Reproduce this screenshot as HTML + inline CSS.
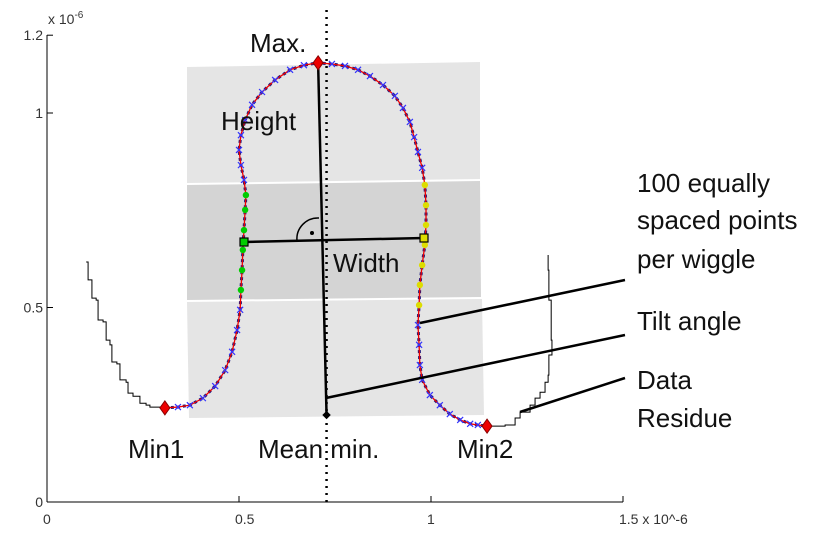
<!DOCTYPE html>
<html><head><meta charset="utf-8"><style>
body{margin:0;background:#fff}
svg{display:block}
.t{font-family:"Liberation Sans",sans-serif;font-size:14px;fill:#333}
.a{font-family:"Liberation Sans",sans-serif;font-size:26px;fill:#111}
</style></head><body>
<svg id="c" width="825" height="534" viewBox="0 0 825 534">
<g><polygon points="187,67 480,62 480,179 187,183" fill="#e5e5e5"/></g>
<g><polygon points="187,185 480,181 481,297 187,300" fill="#d4d4d4"/></g>
<g><polygon points="187,302 482,299 484,415 189,418" fill="#e5e5e5"/></g>
<g id="axes"></g>
<g id="marks"></g>
<g id="anno"></g>
</svg>
<script>
const xTicks=[0,0.5,1,1.5];
const xTickLabels=["0","0.5","1","1.5 x 10^-6"];
const yTicks=[0,0.5,1,1.2];
const yTickLabels=["0","0.5","1","1.2"];
const leftTailX=[0.102,0.107,0.117,0.128,0.133,0.146,0.154,0.164,0.169,0.182,0.190,0.206,0.211,0.224,0.242,0.258,0.268,0.307];
const leftTailY=[0.617,0.571,0.524,0.519,0.468,0.463,0.416,0.404,0.360,0.355,0.314,0.308,0.280,0.272,0.254,0.249,0.244,0.242];
const wiggleX=[0.307,0.341,0.372,0.406,0.438,0.464,0.482,0.495,0.503,0.505,0.508,0.510,0.513,0.516,0.518,0.513,0.505,0.500,0.505,0.516,0.534,0.560,0.594,0.633,0.669,0.706,0.742,0.776,0.810,0.841,0.875,0.906,0.927,0.945,0.956,0.966,0.977,0.984,0.987,0.987,0.984,0.977,0.971,0.969,0.966,0.969,0.971,0.977,0.997,1.023,1.049,1.076,1.102,1.122,1.146];
const wiggleY=[0.242,0.244,0.249,0.267,0.298,0.339,0.386,0.442,0.494,0.545,0.596,0.648,0.699,0.751,0.789,0.828,0.866,0.905,0.943,0.982,1.021,1.054,1.085,1.111,1.123,1.129,1.126,1.121,1.111,1.095,1.072,1.044,1.013,0.977,0.938,0.900,0.859,0.815,0.763,0.712,0.661,0.609,0.558,0.506,0.455,0.404,0.352,0.314,0.275,0.249,0.226,0.211,0.201,0.198,0.195];
const rightTailX=[1.146,1.193,1.219,1.232,1.258,1.271,1.284,1.297,1.305,1.307,1.315,1.313,1.307,1.305];
const rightTailY=[0.195,0.198,0.216,0.231,0.249,0.267,0.282,0.308,0.326,0.378,0.416,0.519,0.596,0.635];
const extremaX=[0.307,0.706,1.146];
const extremaY=[0.242,1.129,0.195];
const bandLo=0.50, bandHi=0.82;

const X=v=>47+v*384, Y=v=>502-v*389;
const NS="http://www.w3.org/2000/svg";
function mk(p,tag,at){const e=document.createElementNS(NS,tag);for(const k in at)e.setAttribute(k,at[k]);p.appendChild(e);return e;}
const axes=document.getElementById('axes'),marks=document.getElementById('marks'),anno=document.getElementById('anno');

let e=mk(axes,'line',{x1:47,y1:35,x2:47,y2:502,stroke:'#000'});


e=mk(axes,'line',{x1:47,y1:502,x2:623,y2:502,stroke:'#000'});


xTicks.forEach((v,i)=>{
 mk(axes,'line',{x1:X(v),y1:502,x2:X(v),y2:496,stroke:'#000'});
 const t=mk(axes,'text',{x:X(v)-4,y:524,class:'t'});t.textContent=xTickLabels[i];
 
 
});
yTicks.forEach((v,i)=>{
 mk(axes,'line',{x1:47,y1:Y(v),x2:53,y2:Y(v),stroke:'#000'});
 const t=mk(axes,'text',{x:43,y:Y(v)+5,class:'t','text-anchor':'end'});t.textContent=yTickLabels[i];
 
 
});
e=mk(axes,'text',{x:48,y:24,class:'t'});e.innerHTML='x 10<tspan dy="-6" font-size="10">-6</tspan>';



function pts(xs,ys){return xs.map((x,i)=>X(x)+','+Y(ys[i])).join(' ');}
function steps(xs,ys){let s=[];for(let i=0;i<xs.length;i++){if(i)s.push(X(xs[i])+','+Y(ys[i-1]));s.push(X(xs[i])+','+Y(ys[i]));}return s.join(' ');}
e=mk(marks,'polyline',{points:steps(leftTailX,leftTailY),fill:'none',stroke:'#000','stroke-width':1});


e=mk(marks,'polyline',{points:steps(rightTailX,rightTailY),fill:'none',stroke:'#000','stroke-width':1});


e=mk(marks,'polyline',{points:pts(wiggleX,wiggleY),fill:'none',stroke:'#1a1a80','stroke-width':3,'stroke-dasharray':'3 3'});


e=mk(marks,'polyline',{points:pts(wiggleX,wiggleY),fill:'none',stroke:'#e00','stroke-width':1.3});


wiggleX.forEach((x,i)=>{
 const y=wiggleY[i],cx=X(x),cy=Y(y);
 const inBand=y>=bandLo&&y<=bandHi;
 let m;
 if(inBand){
  m=mk(marks,'circle',{cx,cy,r:3.2,fill:x<0.7?'#0c0':'#dd0'});
 } else {
  m=mk(marks,'path',{d:`M${cx-3},${cy-3}L${cx+3},${cy+3}M${cx-3},${cy+3}L${cx+3},${cy-3}`,stroke:'#33f','stroke-width':1.2});
 }
 
 
});

const maxPx=[X(extremaX[1]),Y(extremaY[1])];
const meanMinX=0.728, meanMinY=(extremaY[0]+extremaY[2])/2+0.005;
function L(x1,y1,x2,y2,name,extra){const l=mk(anno,'line',Object.assign({x1,y1,x2,y2,stroke:'#000','stroke-width':2.5},extra||{}));return l;}
L(X(meanMinX),10,X(meanMinX),502,'mean-axis-dotted',{'stroke-dasharray':'2 5','stroke-width':2.5});
L(maxPx[0],maxPx[1],X(meanMinX),Y(meanMinY),'height-line');
L(244,242,424,238,'width-line');
L(420,323,625,280,'points-pointer-line');
L(326,398,625,335,'tilt-pointer-line');
L(520,412,625,378,'residue-pointer-line');
e=mk(anno,'path',{d:'M297,241 A21,21 0 0 1 319,218',fill:'none',stroke:'#000','stroke-width':1.5});


mk(anno,'circle',{cx:312,cy:233,r:2,fill:'#000'});
[[244,242,'#0c0'],[424,238,'#dd0']].forEach(q=>{const r=mk(anno,'rect',{x:q[0]-4,y:q[1]-4,width:8,height:8,fill:q[2],stroke:'#000','stroke-width':1.2});});
e=mk(anno,'rect',{x:X(meanMinX)-3,y:Y(meanMinY)-3,width:6,height:6,fill:'#000',transform:`rotate(45 ${X(meanMinX)} ${Y(meanMinY)})`});


extremaX.forEach((x,i)=>{const cx=X(x),cy=Y(extremaY[i]);const d=mk(anno,'path',{d:`M${cx},${cy-7}L${cx+5},${cy}L${cx},${cy+7}L${cx-5},${cy}Z`,fill:'#e00',stroke:'#800'});});
const labels=[["Max.",250,52,'max-label'],["Height",221,130,'height-label'],["Width",333,272,'width-label'],["Min1",128,458,'min1-label'],["Mean min.",258,458,'mean-min-label'],["Min2",457,458,'min2-label'],["100 equally",637,192,'points-label-1'],["spaced points",637,229,'points-label-2'],["per wiggle",637,268,'points-label-3'],["Tilt angle",637,330,'tilt-label'],["Data",637,389,'residue-label-1'],["Residue",637,427,'residue-label-2']];
labels.forEach(l=>{const t=mk(anno,'text',{x:l[1],y:l[2],class:'a'});t.textContent=l[0];});
</script>
</body></html>
